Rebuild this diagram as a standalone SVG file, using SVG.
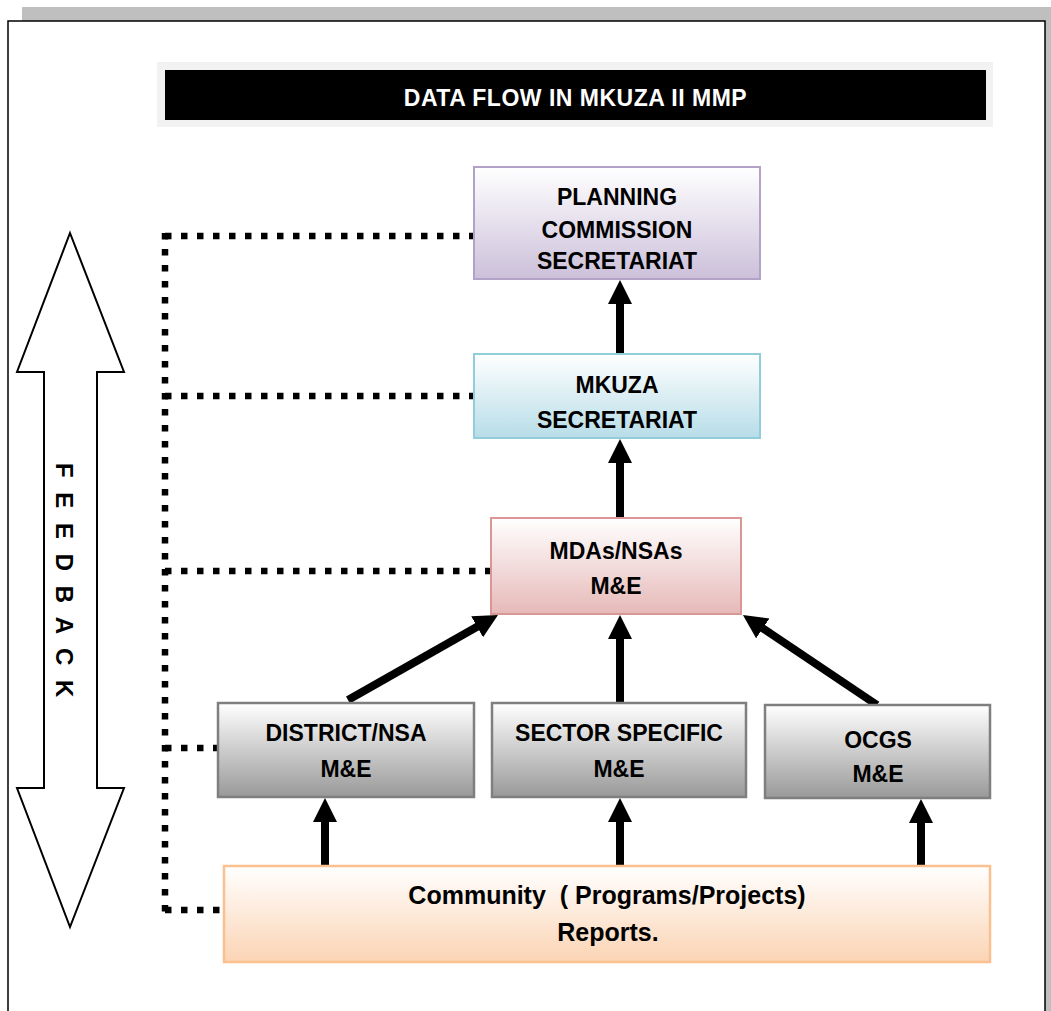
<svg xmlns="http://www.w3.org/2000/svg" width="1051" height="1011" viewBox="0 0 1051 1011">
<defs>
<linearGradient id="gPurple" x1="0" y1="0" x2="0" y2="1"><stop offset="0" stop-color="#ffffff"/><stop offset="1" stop-color="#ccc0da"/></linearGradient>
<linearGradient id="gBlue" x1="0" y1="0" x2="0" y2="1"><stop offset="0" stop-color="#ffffff"/><stop offset="1" stop-color="#b7dde8"/></linearGradient>
<linearGradient id="gRed" x1="0" y1="0" x2="0" y2="1"><stop offset="0" stop-color="#ffffff"/><stop offset="1" stop-color="#e6b9b8"/></linearGradient>
<linearGradient id="gGray" x1="0" y1="0" x2="0" y2="1"><stop offset="0" stop-color="#ffffff"/><stop offset="1" stop-color="#999999"/></linearGradient>
<linearGradient id="gOrange" x1="0" y1="0" x2="0" y2="1"><stop offset="0" stop-color="#ffffff"/><stop offset="1" stop-color="#fbd4b4"/></linearGradient>
<marker id="ah" markerUnits="userSpaceOnUse" markerWidth="26" markerHeight="26" viewBox="0 0 26 26" refX="1" refY="12" orient="auto">
<path d="M0,0 L24,12 L0,24 z" fill="#000"/>
</marker>
</defs>
<style>
.lbl{font-family:"Liberation Sans",Arial,sans-serif;font-weight:bold;font-size:23px;fill:#000;text-anchor:middle}
.com{font-size:25px}
.title{font-family:"Liberation Sans",Arial,sans-serif;font-weight:bold;font-size:23px;letter-spacing:0.5px;fill:#fff;text-anchor:middle}
.fb{font-family:"Liberation Sans",Arial,sans-serif;font-weight:bold;font-size:24px;fill:#000;letter-spacing:4px}
.arr{stroke:#000;stroke-width:8;fill:none;marker-end:url(#ah)}
.dot{stroke:#000;stroke-width:6.5;fill:none;stroke-dasharray:6.5 9.5}
</style>
<rect x="0" y="0" width="1051" height="1011" fill="#fff"/>
<rect x="22" y="7" width="1040" height="1010" fill="#bfbfbf"/>
<rect x="8" y="21" width="1037" height="1000" fill="#fff" stroke="#000" stroke-width="1.5"/>

<g id="title">
<rect x="157" y="62" width="836" height="65" fill="#f2f2f2"/>
<rect x="165" y="70" width="821" height="50" fill="#000"/>
<text class="title" x="575.5" y="106">DATA FLOW IN MKUZA II MMP</text>
</g>

<g id="feedback">
<polygon points="70,233 124,372 97,372 97,788 124,788 70,927 17,788 44,788 44,372 17,372" fill="#fff" stroke="#000" stroke-width="2"/>
<text class="fb" transform="translate(56,463) rotate(90)" x="0" y="0">F E E D B A C K</text>
</g>

<g id="connectors">
<line class="dot" x1="165" y1="236" x2="474" y2="236"/>
<line class="dot" x1="165" y1="396" x2="474" y2="396"/>
<line class="dot" x1="165" y1="571" x2="491" y2="571"/>
<line class="dot" x1="165" y1="748" x2="218" y2="748"/>
<line class="dot" x1="165" y1="910" x2="224" y2="910"/>
<line class="dot" x1="165" y1="233" x2="165" y2="913"/>
<line class="arr" x1="620" y1="354" x2="620" y2="303"/>
<line class="arr" x1="620" y1="518" x2="620" y2="462"/>
<line class="arr" x1="620" y1="703" x2="620" y2="638"/>
<line class="arr" x1="348" y1="700" x2="478" y2="626.3"/>
<line class="arr" x1="877" y1="705" x2="762" y2="627.8"/>
<line class="arr" x1="325" y1="866" x2="325" y2="821"/>
<line class="arr" x1="620" y1="866" x2="620" y2="821"/>
<line class="arr" x1="921" y1="866" x2="921" y2="822"/>
</g>

<g id="planning">
<rect x="474" y="167" width="286" height="112" fill="url(#gPurple)" stroke="#b3a2c7" stroke-width="2"/>
<text class="lbl" x="617" y="205">PLANNING</text>
<text class="lbl" x="617" y="238">COMMISSION</text>
<text class="lbl" x="617" y="269">SECRETARIAT</text>
</g>

<g id="mkuza">
<rect x="474" y="354" width="286" height="84" fill="url(#gBlue)" stroke="#92cddc" stroke-width="2"/>
<text class="lbl" x="617" y="393">MKUZA</text>
<text class="lbl" x="617" y="428">SECRETARIAT</text>
</g>

<g id="mdas">
<rect x="491" y="518" width="250" height="96" fill="url(#gRed)" stroke="#d99694" stroke-width="2"/>
<text class="lbl" x="616" y="559">MDAs/NSAs</text>
<text class="lbl" x="616" y="594">M&amp;E</text>
</g>

<g id="district">
<rect x="218" y="703" width="256" height="94" fill="url(#gGray)" stroke="#7f7f7f" stroke-width="2.5"/>
<text class="lbl" x="346" y="741">DISTRICT/NSA</text>
<text class="lbl" x="346" y="777">M&amp;E</text>
</g>

<g id="sector">
<rect x="492" y="703" width="254" height="94" fill="url(#gGray)" stroke="#7f7f7f" stroke-width="2.5"/>
<text class="lbl" x="619" y="741">SECTOR SPECIFIC</text>
<text class="lbl" x="619" y="777">M&amp;E</text>
</g>

<g id="ocgs">
<rect x="765" y="705" width="225" height="93" fill="url(#gGray)" stroke="#7f7f7f" stroke-width="2.5"/>
<text class="lbl" x="878" y="748">OCGS</text>
<text class="lbl" x="878" y="782">M&amp;E</text>
</g>

<g id="community">
<rect x="224" y="866" width="766" height="96" fill="url(#gOrange)" stroke="#fac090" stroke-width="2.5"/>
<text class="lbl com" x="607" y="904" xml:space="preserve">Community  ( Programs/Projects)</text>
<text class="lbl com" x="608" y="941">Reports.</text>
</g>
</svg>
